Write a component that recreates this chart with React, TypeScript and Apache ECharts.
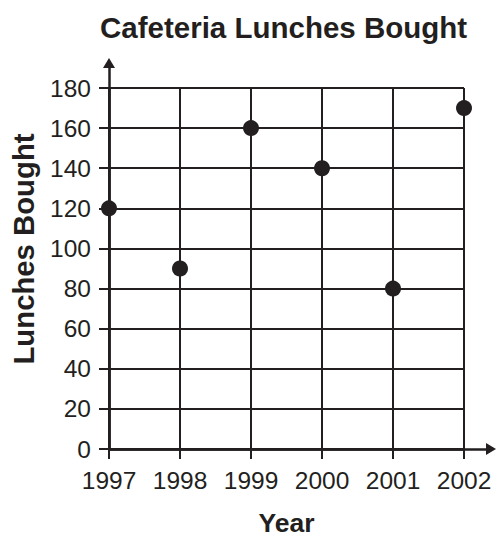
import React, { useEffect, useRef } from "react";
import * as echarts from "echarts";

const years = ["1997", "1998", "1999", "2000", "2001", "2002"];
const lunches = [120, 90, 160, 140, 80, 170];
const yMin = 0;
const yMax = 180;
const yStep = 20;

const INK = "#231f20";
const FONT = "'Liberation Sans', Arial, Helvetica, sans-serif";

export default function App() {
  const ref = useRef<HTMLDivElement>(null);
  useEffect(() => {
    if (!ref.current) return;
    const chart = echarts.init(ref.current, undefined, { renderer: "svg" });
    chart.setOption({
      animation: false,
      backgroundColor: "#ffffff",
      title: {
        text: "Cafeteria Lunches Bought",
        left: 100,
        top: 12,
        padding: 0,
        textStyle: { fontFamily: FONT, fontSize: 29.5, fontWeight: "bold", color: INK },
      },
      grid: [
        { left: 109, right: 32, top: 88, bottom: 87, outerBoundsMode: "none", containLabel: false },
        { left: 109, right: 5, top: 63, bottom: 87, outerBoundsMode: "none", containLabel: false },
      ],
      xAxis: [
        {
          type: "category",
          gridIndex: 0,
          data: years,
          boundaryGap: false,
          name: "Year",
          nameLocation: "middle",
          nameGap: 60,
          nameTextStyle: { fontFamily: FONT, fontSize: 26.5, fontWeight: "bold", color: INK },
          axisLine: { show: true, lineStyle: { color: INK, width: 2.5 } },
          axisTick: { show: true, length: 10, lineStyle: { color: INK, width: 2 } },
          axisLabel: { margin: 19, fontFamily: FONT, fontSize: 24.5, color: INK },
          splitLine: { show: true, lineStyle: { color: INK, width: 2 } },
        },
        {
          type: "value",
          gridIndex: 1,
          min: 0,
          max: 1,
          axisLine: {
            show: true,
            symbol: ["none", "triangle"],
            symbolSize: [12, 10],
            lineStyle: { color: INK, width: 2.5 },
          },
          axisTick: { show: false },
          axisLabel: { show: false },
          splitLine: { show: false },
        },
      ],
      yAxis: [
        {
          type: "value",
          gridIndex: 0,
          min: yMin,
          max: yMax,
          interval: yStep,
          axisLine: { show: true, lineStyle: { color: INK, width: 2.5 } },
          axisTick: { show: true, length: 10, lineStyle: { color: INK, width: 2 } },
          axisLabel: { margin: 18, fontFamily: FONT, fontSize: 24.5, color: INK },
          splitLine: { show: true, lineStyle: { color: INK, width: 2 } },
        },
        {
          type: "value",
          gridIndex: 1,
          min: 0,
          max: 1,
          axisLine: {
            show: true,
            symbol: ["none", "triangle"],
            symbolSize: [12, 10],
            lineStyle: { color: INK, width: 2.5 },
          },
          axisTick: { show: false },
          axisLabel: { show: false },
          splitLine: { show: false },
        },
      ],
      graphic: [
        {
          type: "text",
          x: 23,
          y: 249,
          rotation: Math.PI / 2,
          style: {
            text: "Lunches Bought",
            fontFamily: FONT,
            fontSize: 29.3,
            fontWeight: "bold",
            fill: INK,
            textAlign: "center",
            textVerticalAlign: "middle",
          },
        },
      ],
      series: [
        {
          type: "scatter",
          xAxisIndex: 0,
          yAxisIndex: 0,
          data: lunches,
          symbol: "circle",
          symbolSize: 16,
          itemStyle: { color: INK, opacity: 1 },
          z: 10,
        },
      ],
    });
    return () => chart.dispose();
  }, []);
  return (
    <div
      ref={ref}
      style={{ position: "fixed", left: 0, top: 0, width: 496, height: 536 }}
    />
  );
}
